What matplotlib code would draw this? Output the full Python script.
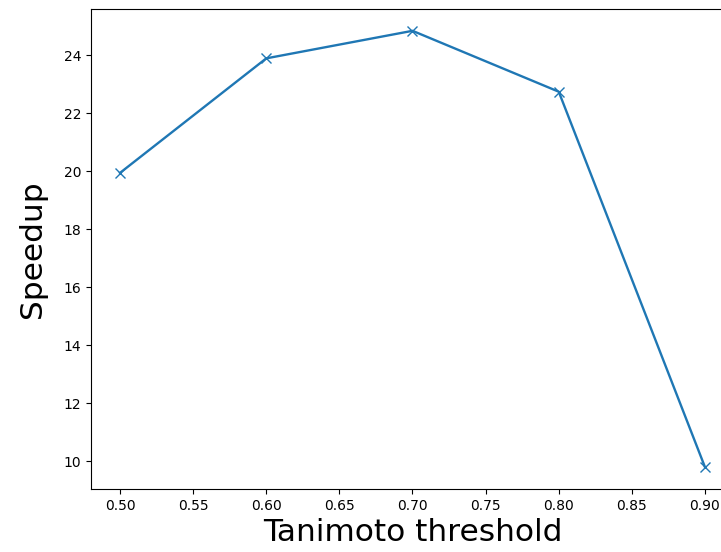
import matplotlib
matplotlib.use("Agg")
import matplotlib.pyplot as plt

# Tanimoto threshold vs speedup
thresholds = [0.5, 0.6, 0.7, 0.8, 0.9]
speedup = [19.95, 23.9, 24.85, 22.75, 9.8]

fig = plt.figure(figsize=(7.21, 5.52), dpi=100)
# axes runs a little past the right edge, like the cropped original
ax = fig.add_axes([90.75 / 721, 63 / 552, 643.5 / 721, 480 / 552])
ax.plot(thresholds, speedup, marker='x', markersize=7, linewidth=1.7)

ax.set_xticks([0.50, 0.55, 0.60, 0.65, 0.70, 0.75, 0.80, 0.85, 0.90])
ax.set_xticklabels(['0.50', '0.55', '0.60', '0.65', '0.70', '0.75', '0.80', '0.85', '0.90'])
ax.set_xlabel("Tanimoto threshold", fontsize=22.5)
ax.set_ylabel("Speedup", fontsize=22.5, labelpad=12)

fig.savefig("out.png", dpi=100)
